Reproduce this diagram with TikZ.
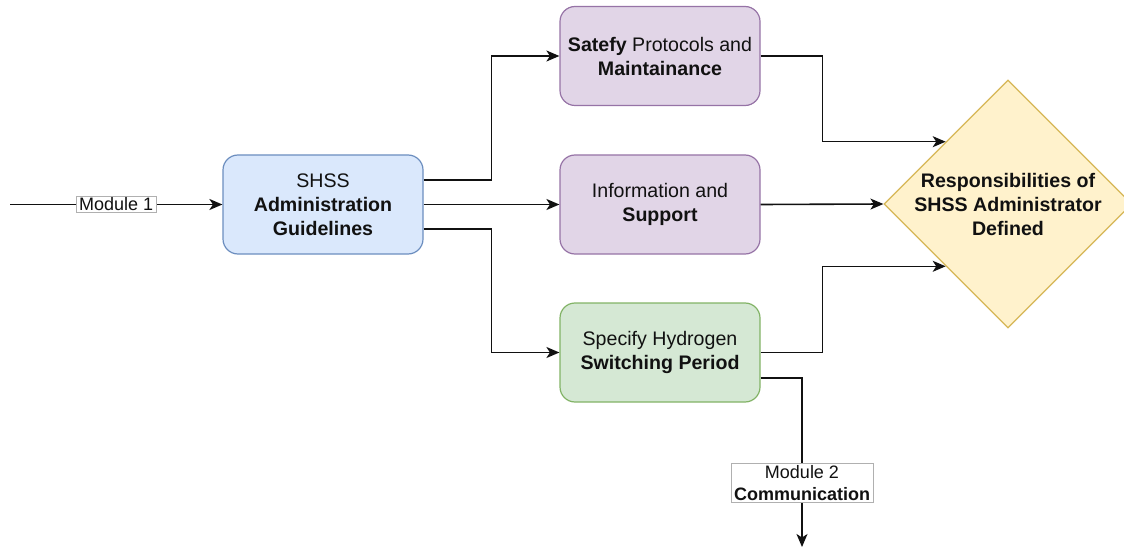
\documentclass[tikz,border=0pt]{standalone}
\usepackage{fontspec}
\setmainfont{Liberation Sans}
\usetikzlibrary{arrows.meta,shapes.geometric,positioning}

\definecolor{blueFill}{HTML}{DAE8FC}
\definecolor{blueLine}{HTML}{6C8EBF}
\definecolor{purpFill}{HTML}{E1D5E7}
\definecolor{purpLine}{HTML}{9673A6}
\definecolor{greenFill}{HTML}{D5E8D4}
\definecolor{greenLine}{HTML}{82B366}
\definecolor{yelFill}{HTML}{FFF2CC}
\definecolor{yelLine}{HTML}{D6B656}
\definecolor{ink}{HTML}{111111}
\definecolor{lblLine}{HTML}{B0B0B0}

\tikzset{
  x=1pt, y=1pt,
  every node/.style={font=\fontsize{19.6}{24}\selectfont, text=ink},
  procbox/.style={rectangle, rounded corners=15pt, minimum width=200pt,
    minimum height=99pt, line width=1.2pt, align=center, inner sep=0pt},
  decision/.style={diamond, minimum width=248pt, minimum height=248pt,
    inner sep=0pt, fill=yelFill, draw=yelLine, line width=1.2pt},
  arr/.style={draw=ink, line width=1.6pt,
    -{Stealth[length=13pt,width=11pt,inset=3.5pt]}},
  modlbl/.style={fill=white, draw=lblLine, line width=0.7pt, align=center,
    font=\fontsize{18}{22}\selectfont, inner xsep=3pt, inner ysep=1.5pt}
}

\begin{document}
\begin{tikzpicture}
  \useasboundingbox (0,0) rectangle (1124,-548);

  % process boxes
  \node[procbox, fill=blueFill, draw=blueLine] (shss) at (323,-204.5)
    {SHSS\\\textbf{Administration}\\\textbf{Guidelines}};
  \node[procbox, fill=purpFill, draw=purpLine] (saf) at (660,-56)
    {\textbf{Satefy} Protocols and\\\textbf{Maintainance}};
  \node[procbox, fill=purpFill, draw=purpLine] (info) at (660,-204.5)
    {Information and\\\textbf{Support}};
  \node[procbox, fill=greenFill, draw=greenLine] (spec) at (660,-352.5)
    {Specify Hydrogen\\\textbf{Switching Period}};

  % decision
  \node[decision] (dia) at (1008,-204) {};
  \node[align=center, font=\bfseries\fontsize{19.6}{24}\selectfont] (diatxt)
    at (dia.center) {Responsibilities of\\SHSS Administrator\\Defined};

  % free ends
  \coordinate (start) at (10,-204.5);
  \coordinate (bot) at (802,-547);

  % connectors
  \draw[arr] (start) -- node[modlbl]{Module 1} (shss.west);
  \draw[arr] ([yshift=24.5pt]shss.east) -- ++(68,0) |- (saf.west);
  \draw[arr] (shss.east) -- (info.west);
  \draw[arr] ([yshift=-24.5pt]shss.east) -- ++(68,0) |- (spec.west);
  \draw[arr] (saf.east) -- ++(62,0) |- (dia.north west);
  \draw[arr] (info.east) -- (dia.west);
  \draw[arr] (spec.east) -- ++(62,0) |- (dia.south west);
  \draw[arr] ([yshift=-25.5pt]spec.east) -| node[modlbl, pos=0.81]
    {Module 2\\\textbf{Communication}} (bot);
\end{tikzpicture}
\end{document}
